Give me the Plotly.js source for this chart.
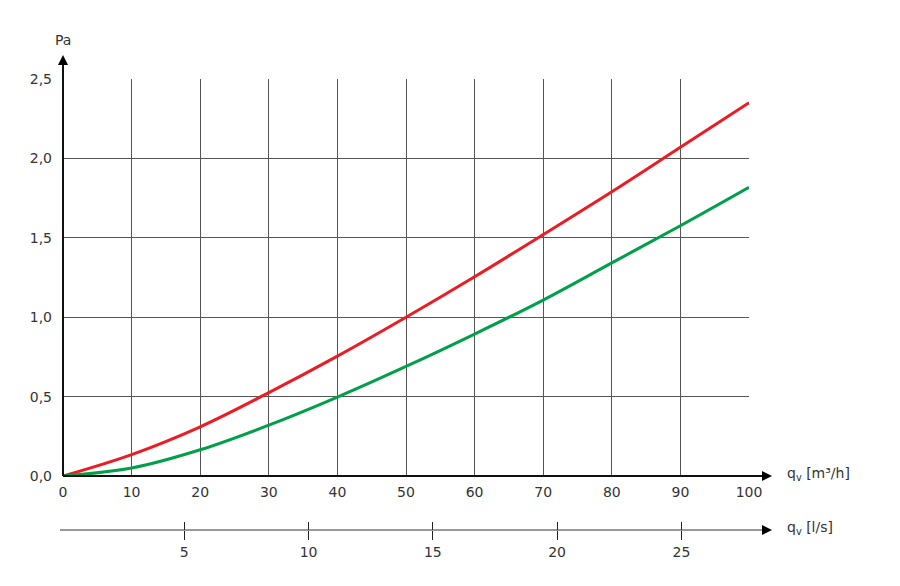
<!DOCTYPE html>
<html><head><meta charset="utf-8">
<script src="https://cdn.plot.ly/plotly-3.0.1.min.js"></script>
<style>html,body{margin:0;padding:0;background:#fff}#c{width:900px;height:586px}</style>
</head><body><div id="c"></div>
<script>
const flowM3h = [0, 10, 20, 30, 40, 50, 60, 70, 80, 90, 100];
const redPa   = [0, 0.135, 0.31, 0.525, 0.755, 1.0, 1.255, 1.52, 1.79, 2.07, 2.35];
const greenPa = [0, 0.05, 0.165, 0.32, 0.497, 0.69, 0.894, 1.108, 1.342, 1.576, 1.818];
const lsTicks = [5, 10, 15, 20, 25];
const yTicks = [0, 0.5, 1.0, 1.5, 2.0, 2.5];

const W = 900, H = 586, L = 63, R = 749, T = 79, B = 530, AX = 476;
const px = p => (p - L) / (R - L);
const py = q => (B - q) / (B - T);
const font = {family: 'DejaVu Sans, sans-serif', size: 14, color: '#333'};

const traces = [
  {x: flowM3h, y: redPa, mode: 'lines', line: {color: '#ec1c24', width: 3, shape: 'spline'}, xaxis: 'x', yaxis: 'y', hoverinfo: 'skip'},
  {x: flowM3h, y: greenPa, mode: 'lines', line: {color: '#00a04b', width: 3, shape: 'spline'}, xaxis: 'x', yaxis: 'y', hoverinfo: 'skip'},
  {x: [], y: [], xaxis: 'x2', yaxis: 'y'},
  {x: [], y: [], xaxis: 'x3', yaxis: 'y'}
];

const lsRange = [0.12, 27.72];
const layout = {
  width: W, height: H,
  margin: {l: L, r: W - R, t: T, b: H - B, pad: 0},
  paper_bgcolor: '#fff', plot_bgcolor: '#fff',
  showlegend: false, separators: ', ',
  font: font,
  xaxis: {range: [0, 100], tickvals: flowM3h, ticktext: flowM3h.map(String), showgrid: true,
          gridcolor: '#555', gridwidth: 1, zeroline: false, showline: false, ticks: '',
          anchor: 'y', ticklabelstandoff: 6, tickfont: font, fixedrange: true},
  yaxis: {range: [0, 2.5], domain: [(B - AX) / (B - T), 1], tickvals: yTicks,
          tickformat: '.1f', showgrid: true, gridcolor: '#555', gridwidth: 1,
          zeroline: false, showline: false, ticks: '', ticklabelstandoff: 10, tickfont: font, fixedrange: true},
  xaxis2: {range: lsRange, overlaying: 'x', anchor: 'free', position: 0, side: 'bottom',
           tickvals: lsTicks, ticks: 'outside', ticklen: 9, tickwidth: 1, tickcolor: '#222',
           showgrid: false, zeroline: false, showline: false, tickfont: font, fixedrange: true},
  xaxis3: {range: lsRange, overlaying: 'x', anchor: 'free', position: 0, side: 'bottom',
           tickvals: lsTicks, ticks: 'inside', ticklen: 8, tickwidth: 1, tickcolor: '#222',
           showticklabels: false, showgrid: false, zeroline: false, showline: false, fixedrange: true},
  shapes: [
    {type: 'line', xref: 'paper', yref: 'paper', x0: px(63), x1: px(63), y0: py(AX), y1: py(62), line: {color: '#111', width: 2}, layer: 'above'},
    {type: 'path', xref: 'paper', yref: 'paper', path: `M ${px(58)} ${py(65)} L ${px(68)} ${py(65)} L ${px(63)} ${py(55)} Z`, fillcolor: '#000', line: {width: 0}},
    {type: 'line', xref: 'paper', yref: 'paper', x0: px(63), x1: px(764), y0: py(AX), y1: py(AX), line: {color: '#111', width: 2}, layer: 'above'},
    {type: 'path', xref: 'paper', yref: 'paper', path: `M ${px(762)} ${py(AX - 5)} L ${px(762)} ${py(AX + 5)} L ${px(772)} ${py(AX)} Z`, fillcolor: '#000', line: {width: 0}},
    {type: 'line', xref: 'paper', yref: 'paper', x0: px(60), x1: px(764), y0: py(530), y1: py(530), line: {color: '#333', width: 1}},
    {type: 'path', xref: 'paper', yref: 'paper', path: `M ${px(762)} ${py(525)} L ${px(762)} ${py(535)} L ${px(772)} ${py(530)} Z`, fillcolor: '#000', line: {width: 0}}
  ],
  annotations: [
    {text: 'Pa', xref: 'paper', yref: 'paper', x: px(63), y: py(40), showarrow: false, xanchor: 'center', yanchor: 'middle', font: font},
    {text: 'q<sub>v</sub> [m³/h]', xref: 'paper', yref: 'paper', x: px(785), y: py(474), showarrow: false, xanchor: 'left', yanchor: 'middle', font: font},
    {text: 'q<sub>v</sub> [l/s]', xref: 'paper', yref: 'paper', x: px(785), y: py(528), showarrow: false, xanchor: 'left', yanchor: 'middle', font: font}
  ]
};
Plotly.newPlot('c', traces, layout, {displayModeBar: false, staticPlot: true});
</script></body></html>
